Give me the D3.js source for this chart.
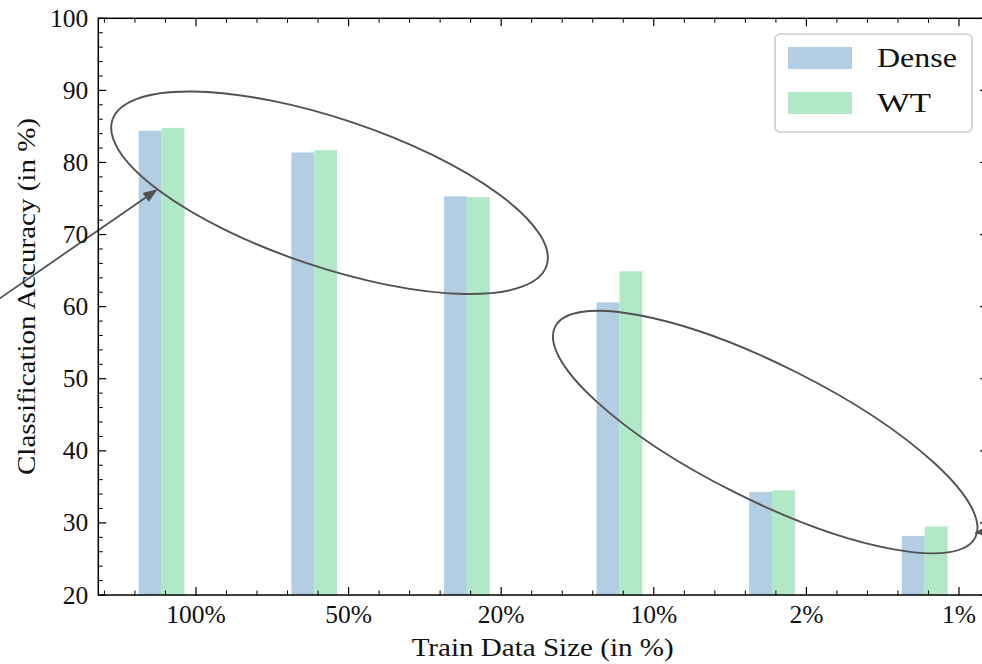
<!DOCTYPE html>
<html>
<head>
<meta charset="utf-8">
<script src="https://cdn.jsdelivr.net/npm/d3@7"></script>
<style>
  html, body { margin: 0; padding: 0; background: #ffffff; }
  svg { display: block; }
  text { font-family: "Liberation Serif", "Times New Roman", serif; fill: #111; }
</style>
</head>
<body>
<svg id="chart" width="982" height="664"></svg>
<script>
// Classification accuracy per training-set fraction
const categories = ["100%", "50%", "20%", "10%", "2%", "1%"];
const denseAcc   = [84.4, 81.4, 75.3, 60.6, 34.3, 28.2];
const wtAcc      = [84.8, 81.7, 75.2, 64.9, 34.5, 29.5];
const seriesNames = ["Dense", "WT"];
const yTickValues = [20, 30, 40, 50, 60, 70, 80, 90, 100];

// Highlight ellipses (centre in data units, semi-axes in px, angle in degrees)
const ellipseCenters = [[0.875, 75.8], [3.73, 42.6]];
const ellipseRadii   = [[229, 74], [235, 67.5]];
const ellipseAngles  = [18.6, 26.6];

// Annotation arrows: [from, to] in data units (from lies outside the axes)
const arrowFrom = [[-1.48, 58.3], [5.40, 29.6]];
const arrowTo   = [[-0.257, 76.2], [5.105, 28.6]];

const colors = ["#b3cde3", "#b1e9c7"];
const ink = "#525252";

const svg = d3.select("#chart");
const plot = { left: 98.3, top: 18.3, right: 988, bottom: 595 };

// x axis is continuous over category positions, bars offset to the left of each tick
const barW = 0.15;
const xLo = -0.375 - 0.05 * 5.3, xHi = 4.925 + 0.05 * 5.3;
const x = d3.scaleLinear().domain([xLo, xHi]).range([plot.left, plot.right]);
const y = d3.scaleLinear().domain([20, 100]).range([plot.bottom, plot.top]);

const series = [denseAcc, wtAcc];
const offsets = [-0.375, -0.225];

// bars
series.forEach((vals, s) => {
  svg.append("g").selectAll("rect").data(vals).join("rect")
    .attr("x", (d, i) => x(i + offsets[s]))
    .attr("width", (d, i) => x(i + offsets[s] + barW) - x(i + offsets[s]))
    .attr("y", d => y(d))
    .attr("height", d => y(20) - y(d))
    .attr("fill", colors[s]);
});

// ellipses
const eg = svg.append("g");
ellipseCenters.forEach((c, i) => {
  const cx = x(c[0]), cy = y(c[1]);
  eg.append("ellipse")
    .attr("cx", cx).attr("cy", cy)
    .attr("rx", ellipseRadii[i][0]).attr("ry", ellipseRadii[i][1])
    .attr("transform", `rotate(${ellipseAngles[i]},${cx},${cy})`)
    .attr("fill", "none").attr("stroke", ink).attr("stroke-width", 1.9);
});

// arrows
const ag = svg.append("g");
arrowFrom.forEach((f, i) => {
  const x0 = x(f[0]), y0 = y(f[1]);
  const x1 = x(arrowTo[i][0]), y1 = y(arrowTo[i][1]);
  const dx = x1 - x0, dy = y1 - y0, len = Math.hypot(dx, dy);
  const ux = dx / len, uy = dy / len;
  const hl = 13, hw = 4.8;
  const bx = x1 - ux * hl, by = y1 - uy * hl;
  ag.append("line")
    .attr("x1", x0).attr("y1", y0).attr("x2", bx).attr("y2", by)
    .attr("stroke", ink).attr("stroke-width", 1.8);
  ag.append("path")
    .attr("d", `M${x1},${y1}L${bx - uy * hw},${by + ux * hw}L${bx + uy * hw},${by - ux * hw}Z`)
    .attr("fill", ink).attr("stroke", ink).attr("stroke-width", 1);
});

// axes: ticks pointing inwards on all four sides
const axisG = svg.append("g").attr("stroke", "#000").attr("fill", "none");
const majLen = 8, minLen = 4.5;
const xMajor = d3.range(categories.length);
const xMinor = d3.range(-3, 27).map(k => k * 0.2).filter(v => v >= xLo && v <= xHi && Math.abs(v - Math.round(v)) > 1e-6);
const yMinor = d3.range(20, 101, 2).filter(v => v % 10 !== 0);

function tick(x1, y1, x2, y2, w) {
  axisG.append("line").attr("x1", x1).attr("y1", y1).attr("x2", x2).attr("y2", y2).attr("stroke-width", w);
}
xMajor.forEach(v => {
  tick(x(v), plot.bottom, x(v), plot.bottom - majLen, 1.2);
  tick(x(v), plot.top, x(v), plot.top + majLen, 1.2);
});
xMinor.forEach(v => {
  tick(x(v), plot.bottom, x(v), plot.bottom - minLen, 1.0);
  tick(x(v), plot.top, x(v), plot.top + minLen, 1.0);
});
yTickValues.forEach(v => {
  tick(plot.left, y(v), plot.left + majLen, y(v), 1.2);
  tick(plot.right, y(v), plot.right - majLen, y(v), 1.2);
});
yMinor.forEach(v => {
  tick(plot.left, y(v), plot.left + minLen, y(v), 1.0);
  tick(plot.right, y(v), plot.right - minLen, y(v), 1.0);
});
axisG.append("rect")
  .attr("x", plot.left).attr("y", plot.top)
  .attr("width", plot.right - plot.left).attr("height", plot.bottom - plot.top)
  .attr("stroke-width", 1.5);

// tick labels
svg.append("g").selectAll("text").data(yTickValues).join("text")
  .attr("x", plot.left - 10).attr("y", d => y(d) + 8.5)
  .attr("text-anchor", "end").attr("font-size", 25.5)
  .text(d => d);
svg.append("g").selectAll("text").data(categories).join("text")
  .attr("x", (d, i) => x(i)).attr("y", 623)
  .attr("text-anchor", "middle").attr("font-size", 25.5)
  .text(d => d);

// axis titles
svg.append("text")
  .attr("x", x((xLo + xHi) / 2) - 0.5).attr("y", 656)
  .attr("text-anchor", "middle").attr("font-size", 25.5)
  .attr("textLength", 262).attr("lengthAdjust", "spacingAndGlyphs")
  .text("Train Data Size (in %)");
svg.append("text")
  .attr("transform", "translate(35,296.5) rotate(-90)")
  .attr("text-anchor", "middle").attr("font-size", 25.5)
  .attr("textLength", 357).attr("lengthAdjust", "spacingAndGlyphs")
  .text("Classification Accuracy (in %)");

// legend
const lg = svg.append("g");
lg.append("rect")
  .attr("x", 775).attr("y", 34).attr("width", 197).attr("height", 98)
  .attr("rx", 5).attr("fill", "#ffffff").attr("fill-opacity", 0.85)
  .attr("stroke", "#cccccc").attr("stroke-width", 1.6);
const legendLens = [80, 54];
seriesNames.forEach((name, i) => {
  lg.append("rect")
    .attr("x", 788).attr("y", 47 + i * 45).attr("width", 64).attr("height", 22)
    .attr("fill", colors[i]);
  lg.append("text")
    .attr("x", 877).attr("y", 67 + i * 45).attr("font-size", 27)
    .attr("textLength", legendLens[i]).attr("lengthAdjust", "spacingAndGlyphs")
    .text(name);
});
</script>
</body>
</html>
